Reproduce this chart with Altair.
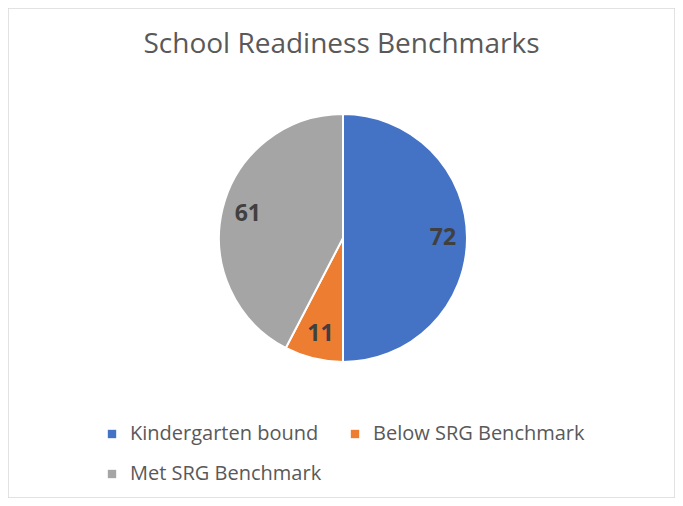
import altair as alt
import pandas as pd

categories = ["Kindergarten bound", "Below SRG Benchmark", "Met SRG Benchmark"]
values = [72, 11, 61]
colors = ["#4472C4", "#ED7D31", "#A5A5A5"]

df = pd.DataFrame({"category": categories, "value": values, "idx": list(range(len(values)))})

color = alt.Color(
    "category:N",
    scale=alt.Scale(domain=categories, range=colors),
    sort=categories,
    legend=alt.Legend(
        title=None,
        orient="none",
        legendX=94,
        legendY=416,
        direction="horizontal",
        columns=2,
        symbolType="square",
        symbolSize=70,
        symbolStrokeWidth=0,
        labelFont="Open Sans",
        labelFontSize=20,
        labelColor="#595959",
        labelOffset=8,
        columnPadding=23,
        rowPadding=20,
        labelLimit=400,
    ),
)

base = alt.Chart(df).encode(
    theta=alt.Theta("value:Q", stack=True),
    order=alt.Order("idx:Q"),
)

pie = base.mark_arc(outerRadius=124, stroke="white", strokeWidth=2).encode(
    color=color,
    x=alt.value(335),
    y=alt.value(230),
)

labels = base.mark_text(
    radius=99, font="Open Sans", fontSize=23, fontWeight="bold", color="#404040",
    align="center", baseline="middle",
).encode(
    text="value:Q",
    x=alt.value(336),
    y=alt.value(230),
)

chart = alt.layer(pie, labels).properties(
    width=667,
    height=490,
    padding=0,
    autosize=alt.AutoSizeParams(type="none"),
    title=alt.TitleParams(
        "School Readiness Benchmarks",
        anchor="middle",
        font="Open Sans",
        fontSize=28,
        fontWeight="normal",
        color="#595959",
        dy=55,
    ),
).configure_view(stroke="#D9D9D9", strokeWidth=1.5)

chart.save("out.html", embed_options={"renderer": "svg", "actions": False})
